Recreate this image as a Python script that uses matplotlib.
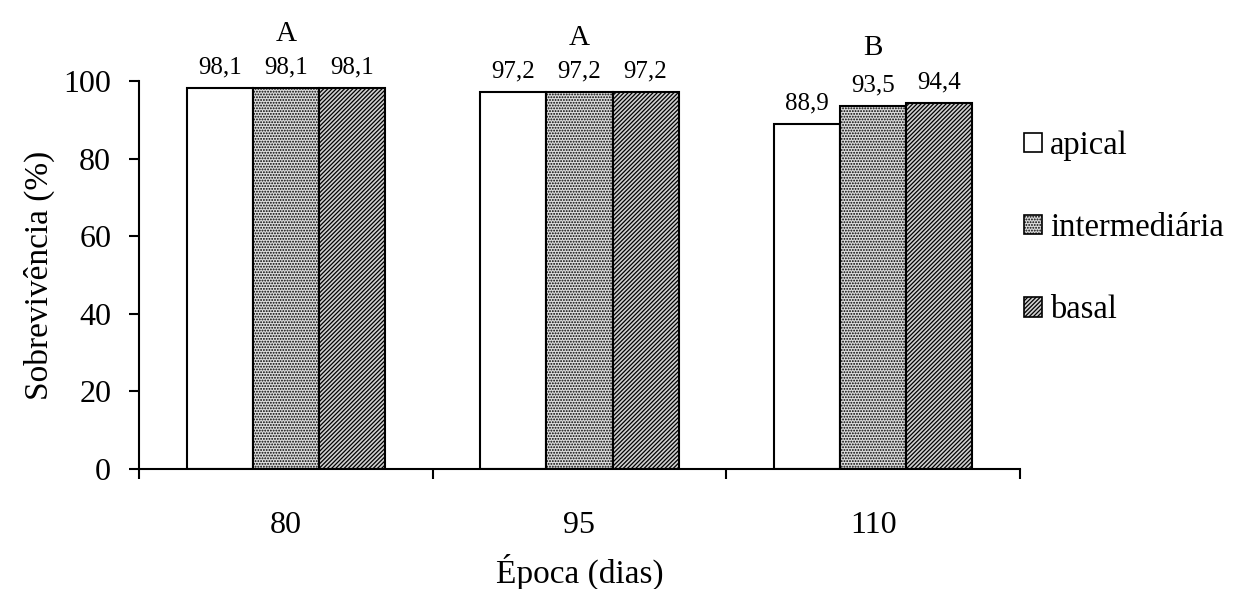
import matplotlib
matplotlib.use("Agg")
import matplotlib.pyplot as plt
import numpy as np
from matplotlib.patches import Patch

plt.rcParams['font.family'] = ['Liberation Serif', 'DejaVu Serif']
plt.rcParams['hatch.linewidth'] = 0.9

categories = ["80", "95", "110"]
series_names = ["apical", "intermediária", "basal"]
apical = [98.1, 97.2, 88.9]
intermediaria = [98.1, 97.2, 93.5]
basal = [98.1, 97.2, 94.4]
group_letters = ["A", "A", "B"]
value_labels = [["98,1", "97,2", "88,9"], ["98,1", "97,2", "93,5"], ["98,1", "97,2", "94,4"]]

series = [apical, intermediaria, basal]
faces = ["white", "#dcdcdc", "#d0d0d0"]
hatches = [None, "......", "////////"]

fig = plt.figure(figsize=(12.34, 5.89), dpi=100)
ax = fig.add_axes([0.1126, 0.2037, 0.7140, 0.6588])

x = np.arange(len(categories))
w = 0.225
for i, vals in enumerate(series):
    pos = x + (i - 1) * w
    bars = ax.bar(pos, vals, width=w, facecolor=faces[i], edgecolor="black",
                  linewidth=1.5, hatch=hatches[i], label=series_names[i], zorder=2)
    for b, lab in zip(bars, value_labels[i]):
        ax.text(b.get_x() + b.get_width() / 2, b.get_height() + 5.3, lab,
                ha="center", va="center", fontsize=18)

for j in range(len(categories)):
    top = max(s[j] for s in series)
    ax.text(x[j], top + 14.0, group_letters[j], ha="center", va="center", fontsize=21)

ax.set_xlim(-0.5, len(categories) - 0.5)
ax.set_ylim(0, 100)
ax.set_yticks([0, 20, 40, 60, 80, 100])
ax.set_xticks(x)
ax.set_xticklabels(categories)
ax.set_xticks(np.arange(-0.5, len(categories)), minor=True)
ax.tick_params(axis="x", which="major", length=0, pad=30, labelsize=23)
ax.tick_params(axis="x", which="minor", length=7, width=1.5, direction="out")
ax.tick_params(axis="y", length=7, width=1.5, direction="out", pad=13, labelsize=23)

for s in ["top", "right"]:
    ax.spines[s].set_visible(False)
for s in ["left", "bottom"]:
    ax.spines[s].set_linewidth(1.5)
ax.spines["bottom"].set_zorder(3)

ax.set_ylabel("Sobrevivência (%)", fontsize=24, labelpad=6)
ax.set_xlabel("Época (dias)", fontsize=24, labelpad=10)

handles = [Patch(facecolor=faces[i], edgecolor="black", hatch=hatches[i], linewidth=1.2)
           for i in range(3)]
fig.legend(handles, series_names, loc="center left", bbox_to_anchor=(0.830, 0.613),
           frameon=False, fontsize=23.5, handlelength=0.55, handleheight=0.55,
           handletextpad=0.25, labelspacing=1.58, borderpad=0, borderaxespad=0)

fig.savefig("out.png", dpi=100)
